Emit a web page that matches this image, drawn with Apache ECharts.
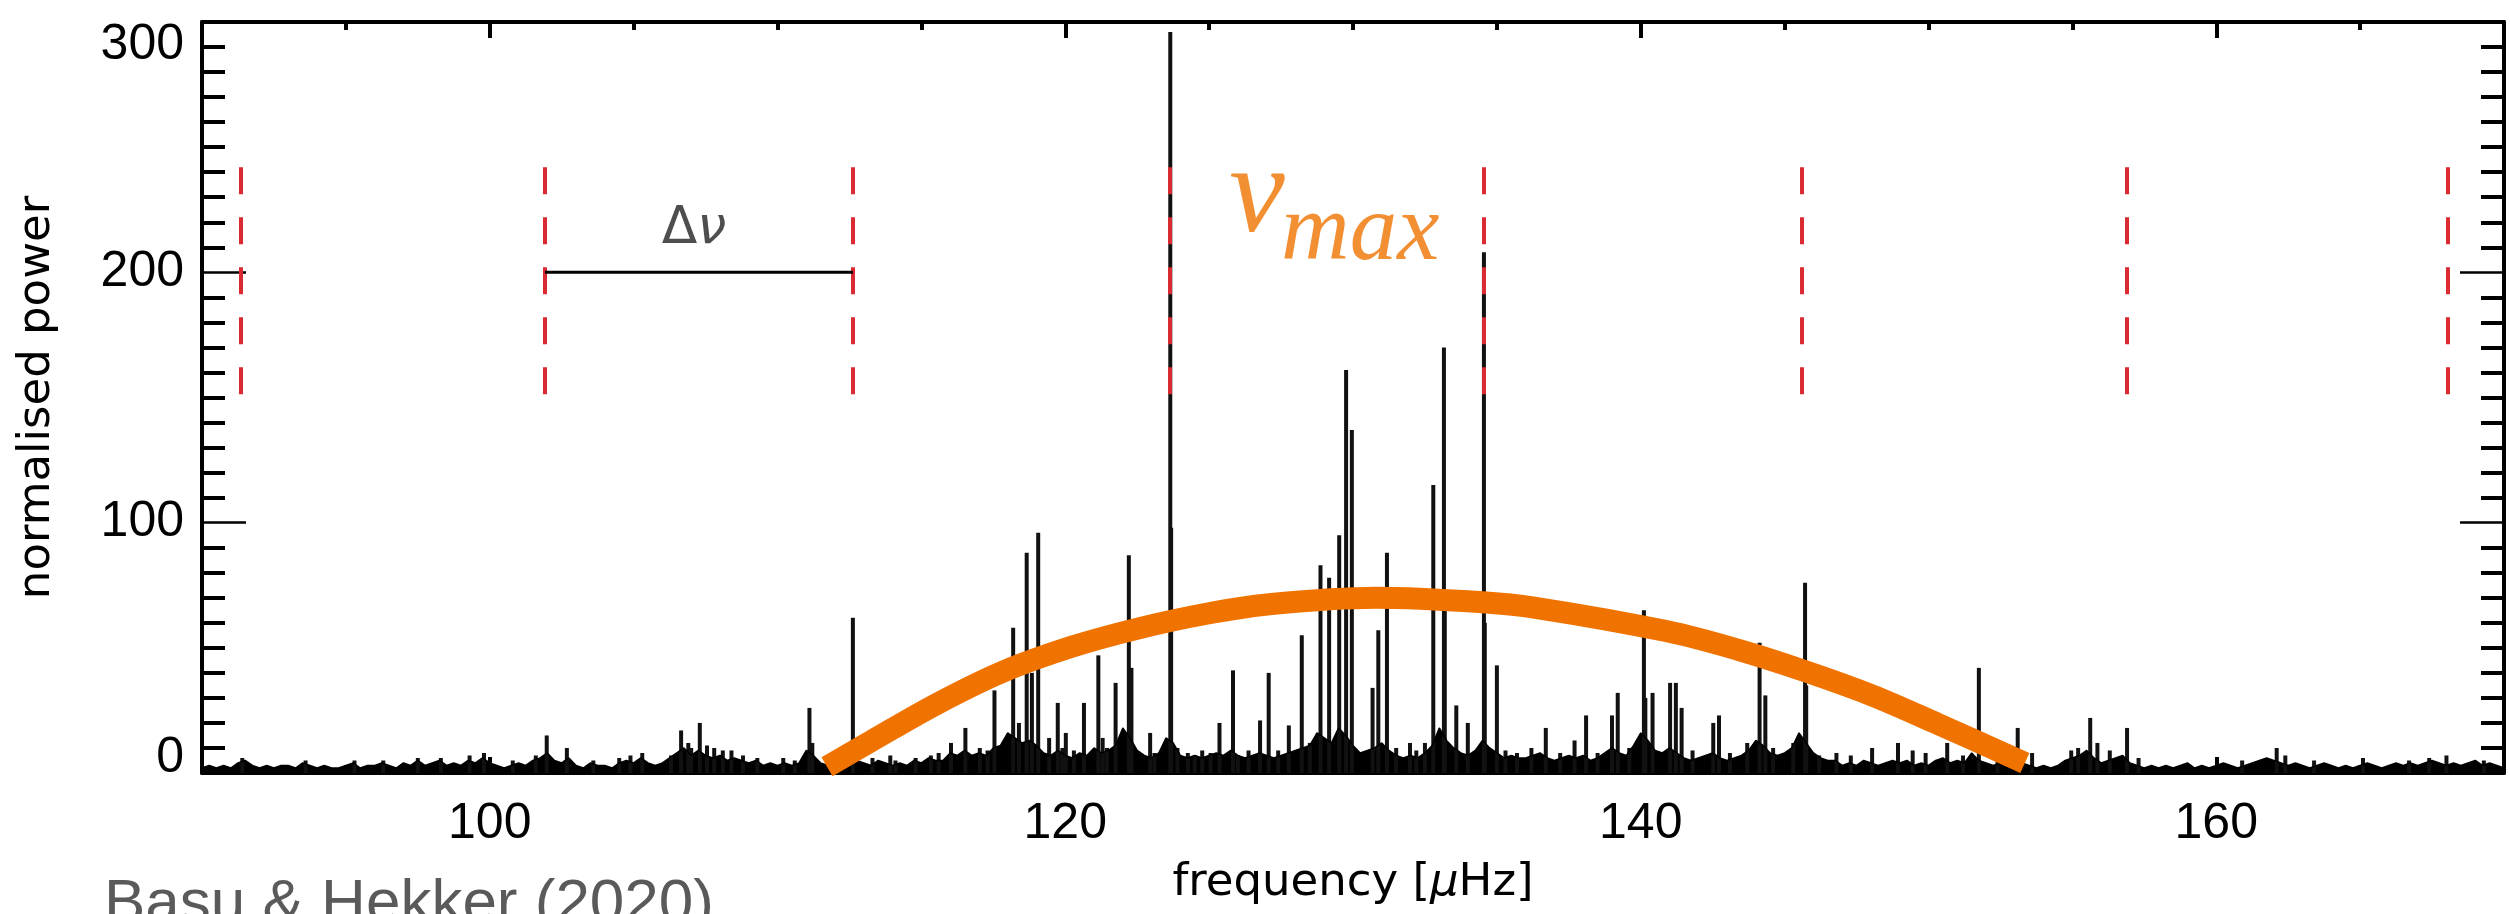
<!DOCTYPE html>
<html><head><meta charset="utf-8">
<script src="https://cdn.jsdelivr.net/npm/echarts@6/dist/echarts.min.js"></script>
<style>html,body{margin:0;padding:0;background:#fff}#c{width:2510px;height:914px}</style>
</head><body><div id="c"></div>
<script>
// ---------------- data ----------------
const xTickLabels = [100, 120, 140, 160];
const yTickLabels = [0, 100, 200, 300];

// background (noise) level of the power spectrum: [frequency µHz, power]
const noise = [
[90,2],[90.25,3],[90.5,2],[90.75,3],[91,2],[91.25,4],[91.5,5],[91.75,3],[92,2],[92.25,3],[92.5,2],[92.75,3],
[93,3],[93.25,2],[93.5,4],[93.75,3],[94,2],[94.25,3],[94.5,2],[94.75,2],[95,3],[95.25,4],[95.5,2],[95.75,3],
[96,3],[96.25,4],[96.5,3],[96.75,2],[97,4],[97.25,3],[97.5,5],[97.75,3],[98,4],[98.25,5],[98.5,3],[98.75,4],
[99,3],[99.25,5],[99.5,4],[99.75,6],[100,4],[100.25,3],[100.5,2],[100.75,3],[101,4],[101.25,3],[101.5,5],[101.75,6],
[102,8],[102.25,5],[102.5,4],[102.75,6],[103,3],[103.25,2],[103.5,4],[103.75,3],[104,3],[104.25,2],[104.5,4],[104.75,5],
[105,4],[105.25,6],[105.5,4],[105.75,3],[106,4],[106.25,6],[106.5,8],[106.75,10],[107,7],[107.25,9],[107.5,7],[107.75,6],
[108,7],[108.25,5],[108.5,6],[108.75,5],[109,4],[109.25,5],[109.5,3],[109.75,4],[110,3],[110.25,4],[110.5,3],[110.75,4],
[111,9],[111.25,7],[111.5,4],[111.75,3],[112,4],[112.25,3],[112.5,6],[112.75,5],[113,4],[113.25,3],[113.5,5],[113.75,4],
[114,3],[114.25,4],[114.5,3],[114.75,5],[115,4],[115.25,6],[115.5,5],[115.75,5],[116,8],[116.25,7],[116.5,9],[116.75,7],
[117,8],[117.25,7],[117.5,10],[117.75,11],[118,16],[118.25,14],[118.5,12],[118.75,13],[119,11],[119.25,8],[119.5,7],[119.75,9],
[120,7],[120.25,6],[120.5,8],[120.75,7],[121,10],[121.25,8],[121.5,9],[121.75,11],[122,18],[122.25,14],[122.5,9],[122.75,7],
[123,6],[123.25,8],[123.5,14],[123.75,12],[124,7],[124.25,6],[124.5,7],[124.75,6],[125,7],[125.25,8],[125.5,7],[125.75,9],
[126,7],[126.25,6],[126.5,7],[126.75,8],[127,7],[127.25,6],[127.5,7],[127.75,8],[128,9],[128.25,10],[128.5,11],[128.75,16],
[129,14],[129.25,12],[129.5,18],[129.75,15],[130,11],[130.25,8],[130.5,9],[130.75,10],[131,12],[131.25,9],[131.5,7],[131.75,6],
[132,7],[132.25,6],[132.5,8],[132.75,11],[133,18],[133.25,13],[133.5,10],[133.75,8],[134,7],[134.25,9],[134.5,13],[134.75,10],
[135,8],[135.25,6],[135.5,7],[135.75,6],[136,6],[136.25,7],[136.5,8],[136.75,6],[137,5],[137.25,6],[137.5,7],[137.75,6],
[138,7],[138.25,5],[138.5,6],[138.75,8],[139,10],[139.25,8],[139.5,7],[139.75,11],[140,16],[140.25,13],[140.5,9],[140.75,8],
[141,10],[141.25,8],[141.5,6],[141.75,5],[142,6],[142.25,7],[142.5,8],[142.75,6],[143,5],[143.25,6],[143.5,7],[143.75,9],
[144,13],[144.25,11],[144.5,8],[144.75,7],[145,8],[145.25,10],[145.5,16],[145.75,12],[146,8],[146.25,6],[146.5,5],[146.75,5],
[147,3],[147.25,4],[147.5,3],[147.75,5],[148,4],[148.25,3],[148.5,4],[148.75,5],[149,4],[149.25,5],[149.5,3],[149.75,4],
[150,3],[150.25,5],[150.5,6],[150.75,4],[151,5],[151.25,4],[151.5,8],[151.75,5],[152,4],[152.25,3],[152.5,4],[152.75,6],
[153,7],[153.25,4],[153.5,3],[153.75,2],[154,3],[154.25,2],[154.5,3],[154.75,5],[155,6],[155.25,7],[155.5,9],[155.75,6],
[156,4],[156.25,5],[156.5,6],[156.75,7],[157,4],[157.25,3],[157.5,2],[157.75,3],[158,2],[158.25,3],[158.5,2],[158.75,3],
[159,4],[159.25,2],[159.5,3],[159.75,2],[160,3],[160.25,4],[160.5,3],[160.75,2],[161,3],[161.25,4],[161.5,5],[161.75,6],
[162,5],[162.25,4],[162.5,3],[162.75,4],[163,3],[163.25,2],[163.5,3],[163.75,4],[164,3],[164.25,2],[164.5,3],[164.75,2],
[165,3],[165.25,4],[165.5,3],[165.75,2],[166,3],[166.25,4],[166.5,3],[166.75,4],[167,3],[167.25,4],[167.5,5],[167.75,4],
[168,3],[168.25,4],[168.5,3],[168.75,4],[169,5],[169.25,3],[169.5,4],[169.75,3],[170,2]
];

// narrow oscillation peaks and small spikes
const peakFreq = [91.4,93.6,95.3,96.3,97.5,98.3,99.3,99.8,100.8,101.6,
101.98,102.68,103.6,104.5,104.89,105.3,106.3,106.65,106.9,107.0,107.3,107.55,107.8,108.1,108.4,108.8,109.3,110.2,110.6,111.11,111.21,
112.62,113.3,113.92,114.1,114.8,115.33,115.6,116.03,116.53,117.03,117.3,117.54,118.19,118.39,118.66,118.84,119.06,119.44,119.74,119.9,120.02,
120.3,120.65,121.15,121.3,121.45,121.75,122.21,122.3,122.95,123.1,123.65,123.68,123.9,124.26,124.5,124.76,125.05,125.36,125.83,126.0,126.37,126.77,
127.07,127.4,127.77,128.22,128.5,128.87,129.17,129.52,129.76,129.96,130.68,130.88,131.18,131.5,131.98,132.2,132.5,132.79,133.16,133.19,
133.59,133.99,134.55,134.58,135.0,135.3,135.7,136.2,136.7,137.2,137.7,138.1,138.5,139.0,139.2,139.6,140.11,140.16,140.41,141.02,
141.22,141.42,141.8,142.52,142.72,143.1,143.7,144.13,144.33,144.6,145.3,145.71,145.75,146.2,146.8,147.3,148.04,148.94,149.45,149.9,150.65,151.2,151.75,152.4,153.1,153.6,
154.96,155.2,155.62,155.87,156.3,156.9,157.3,160.9,162.1,162.4,163.4,165.1,166.7,167.4,168.0,169.3];
const peakPower = [6,5,5,5,6,6,7,8,5,7,
15,10,5,6,7,8,7,17,12,10,20,11,10,9,9,7,6,6,5,26,12,
62,6,7,5,6,7,8,12,18,10,9,33,58,20,88,40,96,14,28,10,16,
9,28,47,14,10,36,87,42,16,8,296,98,10,8,7,9,8,20,41,7,9,21,
40,9,19,55,12,83,78,95,161,137,34,57,88,10,12,9,12,115,170,70,
27,20,208,60,43,9,8,10,18,8,13,23,8,23,32,10,65,30,32,36,
36,26,9,20,23,8,12,52,31,10,12,76,35,7,8,7,10,12,9,8,12,7,42,6,18,8,
9,10,22,12,9,18,6,5,10,7,5,6,5,6,7,5];

// smooth power-excess envelope (orange)
const envelopeFreq = [111.72,113.22,115.52,117.84,120.25,122.45,124.86,127.17,130.8,134.39,136.4,140.92,143.42,145.63,148.04,150.25,153.35];
const envelopePower = [2.5,12.5,27.5,40.5,50.5,57.5,63.5,67.5,70,68.3,65.9,56.6,49.1,41,31,20,4];

// comb of equally spaced radial modes (red dashed markers)
const combFreq = [91.36,101.92,112.62,123.64,134.55,145.60,156.90,168.05];
const combLow = 150, combHigh = 242;
// large separation bracket
const deltaNuFreq = [101.92, 112.62];
const deltaNuPower = 200;

// ---------------- chart ----------------
const chart = echarts.init(document.getElementById('c'), null, {renderer:'canvas'});
const tickFont = {fontFamily:'Liberation Sans', fontSize:50, color:'#000'};
const nameFont = {fontFamily:'DejaVu Sans', fontSize:45, color:'#000'};

function xAxisMain(pos, withLabels){
  return {
    type:'value', min:90, max:170, interval:10, position:pos,
    axisLine:{show:true, onZero:false, lineStyle:{color:'#000', width:4}},
    axisTick:{show:true, inside:true, length:16, customValues:xTickLabels, lineStyle:{color:'#000', width:4}},
    axisLabel:{show:withLabels, customValues:xTickLabels, margin:26, ...tickFont},
    splitLine:{show:false},
    name: withLabels ? 'frequency [{m|μ}Hz]' : '',
    nameLocation:'middle', nameGap:88,
    nameTextStyle:{...nameFont, rich:{m:{...nameFont, fontStyle:'italic'}}}
  };
}
function xAxisMinor(pos){
  return {
    type:'value', min:90, max:170, interval:5, position:pos,
    axisLine:{show:false, onZero:false},
    axisTick:{show:true, inside:true, length:8, lineStyle:{color:'#000', width:4}},
    axisLabel:{show:false}, splitLine:{show:false}
  };
}
function yAxisDef(pos, withLabels){
  return {
    type:'value', min:0, max:300, interval:100, position:pos,
    axisLine:{show:true, onZero:false, lineStyle:{color:'#000', width:4}},
    axisTick:{show:true, inside:true, length:44, lineStyle:{color:'#000', width:2.5}},
    minorTick:{show:true, splitNumber:10, length:23, lineStyle:{color:'#000', width:4}},
    axisLabel:{show:withLabels, margin:18, showMinLabel:true, showMaxLabel:true,
      formatter: v => v === yTickLabels[3] ? '{t|' + v + '}' : (v === yTickLabels[0] ? '{b|' + v + '}' : '{m|' + v + '}'),
      rich:{t:{...tickFont, padding:[46,0,0,0]}, b:{...tickFont, padding:[0,0,30,0]}, m:{...tickFont}}
    },
    splitLine:{show:false}, minorSplitLine:{show:false},
    name: withLabels ? 'normalised power' : '',
    nameLocation:'middle', nameGap:142, nameRotate:90,
    nameTextStyle:{...nameFont}
  };
}

const option = {
  animation:false,
  backgroundColor:'#fff',
  title:{text:'Basu & Hekker (2020)', left:104, top:874, padding:0,
    textStyle:{fontFamily:'Liberation Sans', fontSize:62, fontWeight:'normal', color:'#5a5a5a'}},
  grid:{left:202, right:6, top:22, bottom:141, containLabel:false, outerBoundsMode:'none'},
  xAxis:[xAxisMain('bottom', true), xAxisMinor('bottom'), xAxisMain('top', false), xAxisMinor('top')],
  yAxis:[yAxisDef('left', true), yAxisDef('right', false)],
  series:[
    {type:'line', name:'noise', data:noise, symbol:'none', z:2,
      lineStyle:{color:'#000', width:1.5}, areaStyle:{color:'#000', opacity:1}},
    {type:'bar', name:'peaks', data:peakFreq.map((f,i)=>[f, peakPower[i]]), barWidth:4, z:2,
      itemStyle:{color:'#111'}},
    {type:'line', name:'envelope', data:envelopeFreq.map((f,i)=>[f, envelopePower[i]]), smooth:0.35,
      symbol:'none', z:4, lineStyle:{color:'#f07300', width:22, cap:'butt'}},
    {type:'line', name:'deltaNu', data:deltaNuFreq.map(f=>[f, deltaNuPower]), symbol:'none', z:6,
      lineStyle:{color:'#000', width:3},
      markLine:{silent:true, symbol:['none','none'], label:{show:false},
        lineStyle:{color:'#da2a32', width:4, type:[27,23]},
        data: combFreq.map(f => [{coord:[f, combHigh]}, {coord:[f, combLow]}])}},
    {type:'scatter', name:'labels', symbolSize:0, z:7, silent:true,
      data:[
        {value:[107.1, 217.3], label:{show:true, position:[0,0], align:'center', verticalAlign:'middle',
          formatter:'{d|Δ}{n|ν}',
          rich:{d:{fontFamily:'DejaVu Sans', fontSize:52, color:'#222'},
                n:{fontFamily:'DejaVu Sans', fontSize:52, fontStyle:'italic', color:'#222'}}}},
        {value:[125.7, 229.5], label:{show:true, position:[0,0], align:'left', verticalAlign:'middle',
          formatter:'ν', fontFamily:'Liberation Serif', fontStyle:'italic', fontSize:125, color:'#f07300'}},
        {value:[127.5, 215.2], label:{show:true, position:[0,0], align:'left', verticalAlign:'middle',
          formatter:'max', fontFamily:'Liberation Serif', fontStyle:'italic', fontSize:95, color:'#f07300'}}
      ]}
  ]
};
chart.setOption(option);
</script>
</body></html>
